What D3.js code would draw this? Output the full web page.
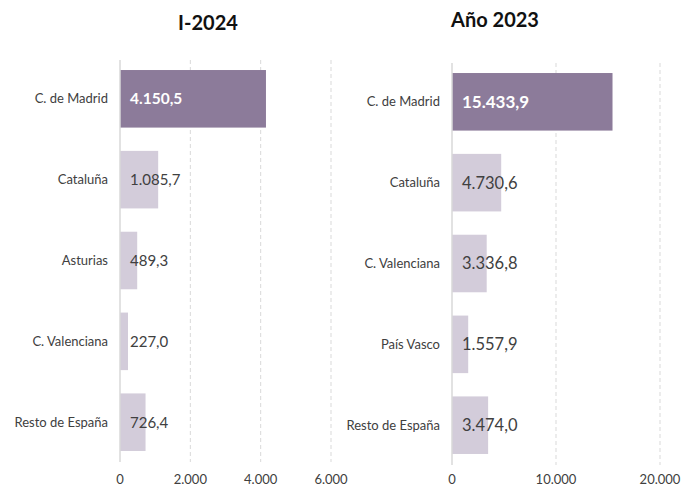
<!DOCTYPE html>
<html>
<head>
<meta charset="utf-8">
<script src="https://cdn.jsdelivr.net/npm/d3@7"></script>
<style>
  html, body { margin: 0; padding: 0; background: #fff; }
  svg { display: block; font-family: Lato, "Open Sans", sans-serif; }
</style>
</head>
<body>
<svg id="chart" width="681" height="488"></svg>
<script>
// data
const leftTitle = 'I-2024';
const leftCategories = ['C. de Madrid', 'Cataluña', 'Asturias', 'C. Valenciana', 'Resto de España'];
const leftValues = [4150.5, 1085.7, 489.3, 227.0, 726.4];
const leftTicks = [0, 2000, 4000, 6000];

const rightTitle = 'Año 2023';
const rightCategories = ['C. de Madrid', 'Cataluña', 'C. Valenciana', 'País Vasco', 'Resto de España'];
const rightValues = [15433.9, 4730.6, 3336.8, 1557.9, 3474.0];
const rightTicks = [0, 10000, 20000];

const es = d3.formatLocale({ decimal: ',', thousands: '.', grouping: [3], currency: ['', ' €'] });
const fmtVal = es.format(',.1f');
const fmtTick = es.format(',d');

const DARK = '#8c7b9a';
const LIGHT = '#d3ccda';
const GRID = '#d9d9d9';

const svg = d3.select('#chart');

function drawPanel(opt) {
  const data = opt.categories.map((c, i) => ({ name: c, value: opt.values[i] }));

  const x = d3.scaleLinear()
    .domain([0, opt.ticks[opt.ticks.length - 1]])
    .range([opt.x0, opt.x1]);
  const y = d3.scaleBand()
    .domain(opt.categories)
    .range([opt.y0, opt.y1])
    .paddingInner(0.288)
    .paddingOuter(0.124);

  const g = svg.append('g');

  // title
  g.append('text')
    .attr('x', opt.titleX)
    .attr('y', opt.titleY)
    .attr('text-anchor', 'middle')
    .attr('font-weight', 700)
    .attr('font-size', 20)
    .attr('fill', '#111')
    .text(opt.title);

  // dashed gridlines
  g.selectAll('.grid')
    .data(opt.ticks.slice(1))
    .join('line')
    .attr('x1', d => x(d)).attr('x2', d => x(d))
    .attr('y1', opt.y0).attr('y2', opt.y1 + 1)
    .attr('stroke', GRID)
    .attr('stroke-width', 1)
    .attr('stroke-dasharray', '4,3');

  // bars
  g.selectAll('.bar')
    .data(data)
    .join('rect')
    .attr('x', x(0))
    .attr('y', d => y(d.name))
    .attr('width', d => x(d.value) - x(0))
    .attr('height', y.bandwidth())
    .attr('fill', (d, i) => (i === 0 ? DARK : LIGHT));

  // zero axis line
  g.append('line')
    .attr('x1', x(0)).attr('x2', x(0))
    .attr('y1', opt.y0).attr('y2', opt.y1 + 1)
    .attr('stroke', GRID)
    .attr('stroke-width', 1.5);

  // category labels
  g.selectAll('.cat')
    .data(data)
    .join('text')
    .attr('x', x(0) - 12)
    .attr('y', d => y(d.name) + y.bandwidth() / 2)
    .attr('dy', '0.35em')
    .attr('text-anchor', 'end')
    .attr('font-size', 13)
    .attr('fill', '#404040')
    .text(d => d.name);

  // value labels
  g.selectAll('.val')
    .data(data)
    .join('text')
    .attr('x', x(0) + 10)
    .attr('y', d => y(d.name) + y.bandwidth() / 2)
    .attr('dy', '0.36em')
    .attr('font-size', (d, i) => (i === 0 ? opt.valSize + 0.5 : opt.valSize))
    .attr('font-weight', (d, i) => (i === 0 ? 700 : 400))
    .attr('fill', (d, i) => (i === 0 ? '#fff' : '#404040'))
    .text(d => fmtVal(d.value));

  // axis tick labels
  g.selectAll('.tick')
    .data(opt.ticks)
    .join('text')
    .attr('x', d => x(d))
    .attr('y', 484)
    .attr('text-anchor', 'middle')
    .attr('font-size', 13)
    .attr('fill', '#404040')
    .text(d => fmtTick(d));
}

drawPanel({
  title: leftTitle, categories: leftCategories, values: leftValues, ticks: leftTicks,
  x0: 120, x1: 331, y0: 60, y1: 461, titleX: 208, titleY: 30, valSize: 15
});
drawPanel({
  title: rightTitle, categories: rightCategories, values: rightValues, ticks: rightTicks,
  x0: 452, x1: 660, y0: 63, y1: 464, titleX: 495, titleY: 27, valSize: 16.5
});
</script>
</body>
</html>
